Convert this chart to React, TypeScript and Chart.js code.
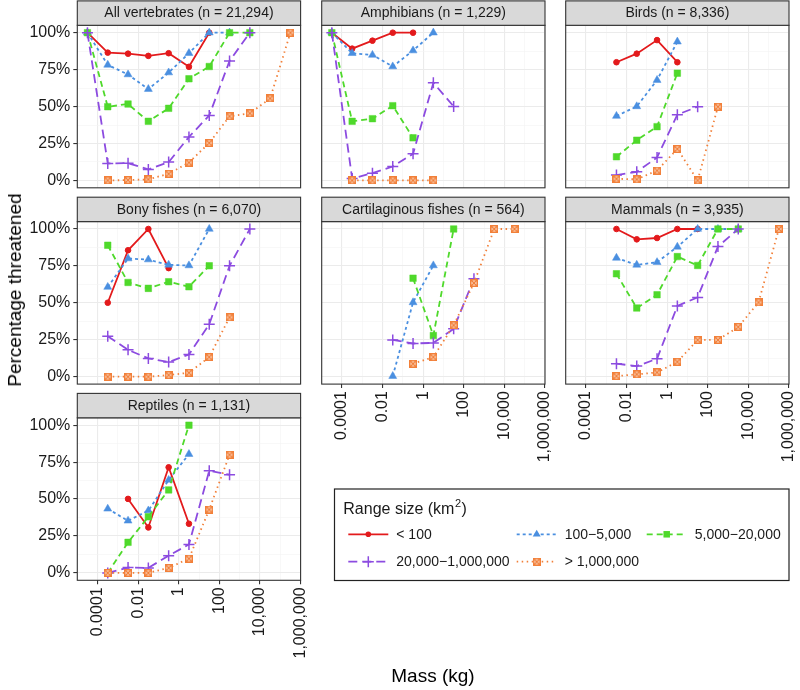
import React, { useEffect, useRef } from "react";
import { Chart, registerables } from "chart.js";
Chart.register(...registerables);

const N = null;

// Mass bins (kg): midpoints of each decade on the log axis
const MASS_BINS = [3.162e-5, 3.162e-4, 3.162e-3, 3.162e-2, 0.3162, 3.162, 31.62, 316.2, 3162, 31623, 316228];
const X_TICKS = [1e-5, 1e-4, 1e-3, 1e-2, 1e-1, 1, 10, 100, 1000, 1e4, 1e5, 1e6];
const X_TICK_LABELS = ["", "0.0001", "", "0.01", "", "1", "", "100", "", "10,000", "", "1,000,000"];
const Y_TICKS = [0, 12.5, 25, 37.5, 50, 62.5, 75, 87.5, 100];
const Y_TICK_LABELS = ["0%", "", "25%", "", "50%", "", "75%", "", "100%"];
const RANGE_SIZES = ["< 100", "100\u22125,000", "5,000\u221220,000", "20,000\u22121,000,000", "> 1,000,000"];
const PANEL_TITLES = [
  "All vertebrates (n = 21,294)",
  "Amphibians (n = 1,229)",
  "Birds (n = 8,336)",
  "Bony fishes (n = 6,070)",
  "Cartilaginous fishes (n = 564)",
  "Mammals (n = 3,935)",
  "Reptiles (n = 1,131)",
];

// Percentage threatened, per range-size class, aligned with MASS_BINS
const allVertebrates = [
  [100, 86.5, 85.8, 84.3, 86.1, 76.9, 100, N, N, N, N],
  [100, 78.2, 71.7, 61.8, 73.0, 86.1, 100, 100, N, N, N],
  [100, 49.9, 51.7, 40.0, 48.8, 68.8, 77.1, 100, 100, N, N],
  [100, 11.5, 11.7, 7.4, 12.4, 29.4, 44.0, 80.9, 100, N, N],
  [N, 0, 0.2, 0.7, 4.5, 12.1, 25.4, 43.4, 45.4, 55.5, 100],
];
const amphibians = [
  [100, 89.2, 94.6, 100, 100, N, N, N, N, N, N],
  [100, 86.1, 84.9, 77.1, 87.9, 100, N, N, N, N, N],
  [100, 40.0, 41.8, 50.6, 28.8, N, N, N, N, N, N],
  [100, 1.3, 4.9, 9.4, 18.0, 66.1, 50.1, N, N, N, N],
  [N, 0, 0, 0, 0, 0, N, N, N, N, N],
];
const birds = [
  [N, N, 80.0, 85.8, 95.0, 80.0, N, N, N, N, N],
  [N, N, 43.6, 50.1, 67.9, 93.9, N, N, N, N, N],
  [N, N, 16.0, 27.2, 36.4, 72.6, N, N, N, N, N],
  [N, N, 3.6, 5.8, 15.5, 44.5, 49.9, N, N, N, N],
  [N, N, 1.1, 0.7, 6.7, 21.3, 0, 49.9, N, N, N],
];
const bonyFishes = [
  [N, 50.1, 85.6, 100, 73.5, N, N, N, N, N, N],
  [N, 60.7, 80.0, 79.3, 75.7, 75.3, 100, N, N, N, N],
  [N, 89.0, 63.8, 59.8, 64.3, 60.9, 75.1, N, N, N, N],
  [N, 27.4, 18.2, 12.4, 9.9, 15.1, 35.5, 75.1, 100, N, N],
  [N, 0, 0, 0, 1.1, 2.7, 13.3, 40.2, N, N, N],
];
const cartilaginousFishes = [
  [N, N, N, N, N, N, N, N, N, N, N],
  [N, N, N, 0.4, 50.3, 75.3, N, N, N, N, N],
  [N, N, N, N, 66.7, 27.9, 100, N, N, N, N],
  [N, N, N, 24.9, 22.5, 22.9, 32.4, 66.3, N, N, N],
  [N, N, N, N, 8.8, 13.3, 34.8, 63.4, 100, 100, N],
];
const mammals = [
  [N, N, 100, 93.0, 93.9, 100, 100, N, N, N, N],
  [N, N, 80.4, 75.7, 77.5, 87.9, 100, 100, 100, N, N],
  [N, N, 69.7, 46.5, 55.5, 81.3, 75.3, 100, 100, N, N],
  [N, N, 8.8, 7.2, 12.1, 47.9, 53.7, 88.1, 100, N, N],
  [N, N, 0.4, 1.6, 2.9, 10.1, 24.9, 24.9, 33.7, 50.3, 100],
];
const reptiles = [
  [N, N, 50.1, 30.8, 71.5, 33.3, N, N, N, N, N],
  [N, 43.4, 35.3, 42.2, 62.9, 80.4, N, N, N, N, N],
  [N, 0, 20.7, 38.0, 56.2, 100, N, N, N, N, N],
  [N, 0, 3.6, 3.4, 11.7, 19.3, 69.2, 66.5, N, N, N],
  [N, 0, 0, 0, 3.4, 9.7, 42.9, 80.0, N, N, N],
];

const FONT = '"Liberation Sans", Arial, Helvetica, sans-serif';
const COLORS = ["#E31A1C", "#4A8FE0", "#4FD92B", "#8C4BE0", "#F2803A"];
const DASHES = [[], [3, 3], [6, 4], [9, 5], [1.5, 3.5]];
const LINE_W = 1.8;

const COL_LEFT = [77.3, 321.7, 565.7];
const PANEL_W = 223.3;
const ROW_TOP = [25.3, 221.6, 417.8];
const PANEL_H = 162.5;
const STRIP_H = 24.4;

function makeSquareCross(color: string, size: number) {
  const c = document.createElement("canvas");
  c.width = size;
  c.height = size;
  const g = c.getContext("2d")!;
  g.fillStyle = "#fff";
  g.fillRect(0, 0, size, size);
  g.strokeStyle = color;
  g.lineWidth = 1.6;
  g.strokeRect(0.8, 0.8, size - 1.6, size - 1.6);
  g.beginPath();
  g.moveTo(0.8, 0.8);
  g.lineTo(size - 0.8, size - 0.8);
  g.moveTo(size - 0.8, 0.8);
  g.lineTo(0.8, size - 0.8);
  g.stroke();
  return c;
}

function seriesStyle(i: number, orangeImg: HTMLCanvasElement) {
  const color = COLORS[i];
  const styles: any[] = [
    { pointStyle: "circle", pointRadius: 2.8, pointBorderWidth: 1 },
    { pointStyle: "triangle", pointRadius: 4.6, pointBorderWidth: 0.5 },
    { pointStyle: "rect", pointRadius: 4.6, pointBorderWidth: 0.5 },
    { pointStyle: "cross", pointRadius: 5.5, pointBorderWidth: 1.5 },
    { pointStyle: orangeImg, pointRadius: 4, pointBorderWidth: 0 },
  ];
  return { color, dash: DASHES[i], ...styles[i] };
}

function drawLegendMarker(ctx: CanvasRenderingContext2D, i: number, x: number, y: number, img: HTMLCanvasElement) {
  const c = COLORS[i];
  ctx.save();
  ctx.setLineDash([]);
  ctx.fillStyle = c;
  ctx.strokeStyle = c;
  if (i === 0) {
    ctx.beginPath();
    ctx.arc(x, y, 2.8, 0, Math.PI * 2);
    ctx.fill();
  } else if (i === 1) {
    const r = 4.6;
    ctx.beginPath();
    ctx.moveTo(x, y - r);
    ctx.lineTo(x + r * 0.866, y + r * 0.5);
    ctx.lineTo(x - r * 0.866, y + r * 0.5);
    ctx.closePath();
    ctx.fill();
  } else if (i === 2) {
    const s = 4.6 * Math.SQRT1_2;
    ctx.fillRect(x - s, y - s, 2 * s, 2 * s);
  } else if (i === 3) {
    ctx.lineWidth = 1.5;
    ctx.beginPath();
    ctx.moveTo(x - 5.5, y);
    ctx.lineTo(x + 5.5, y);
    ctx.moveTo(x, y - 5.5);
    ctx.lineTo(x, y + 5.5);
    ctx.stroke();
  } else {
    ctx.drawImage(img, x - img.width / 2, y - img.height / 2);
  }
  ctx.restore();
}

const LEGEND_SLOTS = [
  { x: 348.3, y: 534.3 },
  { x: 516.7, y: 534.3 },
  { x: 646.7, y: 534.3 },
  { x: 348.3, y: 561.7 },
  { x: 516.7, y: 561.7 },
];

function legendPlugin(img: HTMLCanvasElement) {
  return {
    id: "rangeLegend",
    afterDraw(chart: any) {
      const ctx: CanvasRenderingContext2D = chart.ctx;
      ctx.save();
      ctx.fillStyle = "#fff";
      ctx.fillRect(334.5, 489, 454.5, 91.5);
      ctx.strokeStyle = "#222";
      ctx.lineWidth = 1.2;
      ctx.strokeRect(334.5, 489, 454.5, 91.5);
      ctx.fillStyle = "#1a1a1a";
      ctx.textBaseline = "alphabetic";
      ctx.textAlign = "left";
      ctx.font = `16px ${FONT}`;
      const t = "Range size (km";
      ctx.fillText(t, 343.3, 514);
      const w = ctx.measureText(t).width;
      ctx.font = `11px ${FONT}`;
      ctx.fillText("2", 343.3 + w + 0.5, 507);
      const w2 = ctx.measureText("2").width;
      ctx.font = `16px ${FONT}`;
      ctx.fillText(")", 343.3 + w + w2 + 1, 514);
      RANGE_SIZES.forEach((lab, i) => {
        const s = LEGEND_SLOTS[i];
        ctx.save();
        ctx.strokeStyle = COLORS[i];
        ctx.lineWidth = LINE_W;
        ctx.setLineDash(DASHES[i]);
        ctx.beginPath();
        ctx.moveTo(s.x, s.y);
        ctx.lineTo(s.x + 40, s.y);
        ctx.stroke();
        ctx.restore();
        drawLegendMarker(ctx, i, s.x + 20, s.y, img);
        ctx.fillStyle = "#1a1a1a";
        ctx.font = `14px ${FONT}`;
        ctx.textBaseline = "middle";
        ctx.fillText(lab, s.x + 48, s.y + 0.5);
      });
      ctx.restore();
    },
  };
}

function panelDecor(title: string) {
  return {
    id: "panelDecor",
    afterDraw(chart: any) {
      const { left, top, right, bottom } = chart.chartArea;
      const ctx: CanvasRenderingContext2D = chart.ctx;
      ctx.save();
      ctx.strokeStyle = "#333";
      ctx.lineWidth = 1.1;
      ctx.strokeRect(left, top, right - left, bottom - top);
      ctx.fillStyle = "#D9D9D9";
      ctx.fillRect(left, top - STRIP_H, right - left, STRIP_H);
      ctx.strokeRect(left, top - STRIP_H, right - left, STRIP_H);
      ctx.fillStyle = "#1A1A1A";
      ctx.font = `14px ${FONT}`;
      ctx.textAlign = "center";
      ctx.textBaseline = "middle";
      ctx.fillText(title, (left + right) / 2, top - STRIP_H / 2 + 0.5);
      ctx.restore();
    },
  };
}

type Spec = {
  title: string;
  values: (number | null)[][];
  row: number;
  col: number;
  yLabels: boolean;
  xLabels: boolean;
  legend?: boolean;
};

const SPECS: Spec[] = [
  { title: PANEL_TITLES[0], values: allVertebrates, row: 0, col: 0, yLabels: true, xLabels: false },
  { title: PANEL_TITLES[1], values: amphibians, row: 0, col: 1, yLabels: false, xLabels: false },
  { title: PANEL_TITLES[2], values: birds, row: 0, col: 2, yLabels: false, xLabels: false },
  { title: PANEL_TITLES[3], values: bonyFishes, row: 1, col: 0, yLabels: true, xLabels: false },
  { title: PANEL_TITLES[4], values: cartilaginousFishes, row: 1, col: 1, yLabels: false, xLabels: true },
  { title: PANEL_TITLES[5], values: mammals, row: 1, col: 2, yLabels: false, xLabels: true },
  { title: PANEL_TITLES[6], values: reptiles, row: 2, col: 0, yLabels: true, xLabels: true, legend: true },
];

function Panel({ spec }: { spec: Spec }) {
  const ref = useRef<HTMLCanvasElement>(null);
  useEffect(() => {
    const img = makeSquareCross(COLORS[4], 8);
    const L = COL_LEFT[spec.col];
    const T = ROW_TOP[spec.row];
    const yW = spec.yLabels ? 60 : 0;
    const xH = spec.xLabels ? 80 : 0;
    const datasets = [0, 1, 2, 3, 4].map((si) => {
      const st = seriesStyle(si, img);
      return {
        label: RANGE_SIZES[si],
        data: MASS_BINS.map((m, i) => ({ x: m, y: spec.values[si][i] })).filter((p) => p.y !== null),
        borderColor: st.color,
        backgroundColor: st.color,
        borderWidth: LINE_W,
        borderDash: st.dash,
        pointStyle: st.pointStyle,
        pointRadius: st.pointRadius,
        pointBackgroundColor: st.color,
        pointBorderColor: st.color,
        pointBorderWidth: st.pointBorderWidth,
        order: 4 - si,
        tension: 0,
        fill: false,
      };
    });
    const plugins: any[] = [panelDecor(spec.title)];
    if (spec.legend) plugins.push(legendPlugin(img));
    const chart = new Chart(ref.current!, {
      type: "line",
      data: { datasets } as any,
      options: {
        animation: false,
        responsive: false,
        events: [],
        layout: {
          padding: {
            left: L - yW,
            top: T,
            right: 800 - L - PANEL_W,
            bottom: 690 - T - PANEL_H - xH,
          },
        },
        scales: {
          x: {
            type: "logarithmic",
            min: 1e-5,
            max: 1e6,
            afterBuildTicks: (s: any) => {
              s.ticks = X_TICKS.map((v) => ({ value: v }));
            },
            afterFit: (s: any) => {
              s.height = xH;
              s.paddingLeft = 0;
              s.paddingRight = 0;
              s.paddingTop = 0;
              s.paddingBottom = 0;
            },
            ticks: {
              display: spec.xLabels,
              autoSkip: false,
              minRotation: 90,
              maxRotation: 90,
              padding: 3,
              color: "#1a1a1a",
              font: { family: FONT, size: 16 },
              callback: (_v: any, i: number) => X_TICK_LABELS[i],
            },
            grid: {
              color: (c: any) => (c.index % 2 === 1 ? "#EBEBEB" : "#F4F4F4"),
              lineWidth: (c: any) => (c.index % 2 === 1 ? 1.1 : 0.6),
              drawTicks: spec.xLabels,
              tickLength: 4,
              tickColor: (c: any) => (c.index % 2 === 1 ? "#333" : "rgba(0,0,0,0)"),
              tickWidth: 1.1,
            },
            border: { display: false },
          },
          y: {
            type: "linear",
            min: -5,
            max: 105,
            afterBuildTicks: (s: any) => {
              s.ticks = Y_TICKS.map((v) => ({ value: v }));
            },
            afterFit: (s: any) => {
              s.width = yW;
              s.paddingLeft = 0;
              s.paddingRight = 0;
              s.paddingTop = 0;
              s.paddingBottom = 0;
            },
            ticks: {
              display: spec.yLabels,
              autoSkip: false,
              padding: 3,
              color: "#1a1a1a",
              font: { family: FONT, size: 16 },
              callback: (_v: any, i: number) => Y_TICK_LABELS[i],
            },
            grid: {
              color: (c: any) => (c.index % 2 === 0 ? "#EBEBEB" : "#F4F4F4"),
              lineWidth: (c: any) => (c.index % 2 === 0 ? 1.1 : 0.6),
              drawTicks: spec.yLabels,
              tickLength: 4,
              tickColor: (c: any) => (c.index % 2 === 0 ? "#333" : "rgba(0,0,0,0)"),
              tickWidth: 1.1,
            },
            border: { display: false },
          },
        },
        plugins: {
          legend: { display: false },
          tooltip: { enabled: false },
          title: { display: false },
        },
      } as any,
      plugins,
    });
    return () => chart.destroy();
  }, []);
  return (
    <canvas
      ref={ref}
      width={800}
      height={690}
      style={{ position: "absolute", left: 0, top: 0, width: 800, height: 690 }}
    />
  );
}

export default function App() {
  return (
    <div style={{ position: "absolute", left: 0, top: 0, width: 800, height: 690, background: "#fff", overflow: "hidden" }}>
      {SPECS.map((s) => (
        <Panel key={s.title} spec={s} />
      ))}
      <div
        style={{
          position: "absolute",
          left: 15,
          top: 290,
          transform: "translate(-50%, -50%) rotate(-90deg)",
          font: `19px ${FONT}`,
          color: "#000",
          whiteSpace: "nowrap",
        }}
      >
        Percentage threatened
      </div>
      <div
        style={{
          position: "absolute",
          left: 433,
          top: 676,
          transform: "translate(-50%, -50%)",
          font: `19px ${FONT}`,
          color: "#000",
          whiteSpace: "nowrap",
        }}
      >
        Mass (kg)
      </div>
    </div>
  );
}
